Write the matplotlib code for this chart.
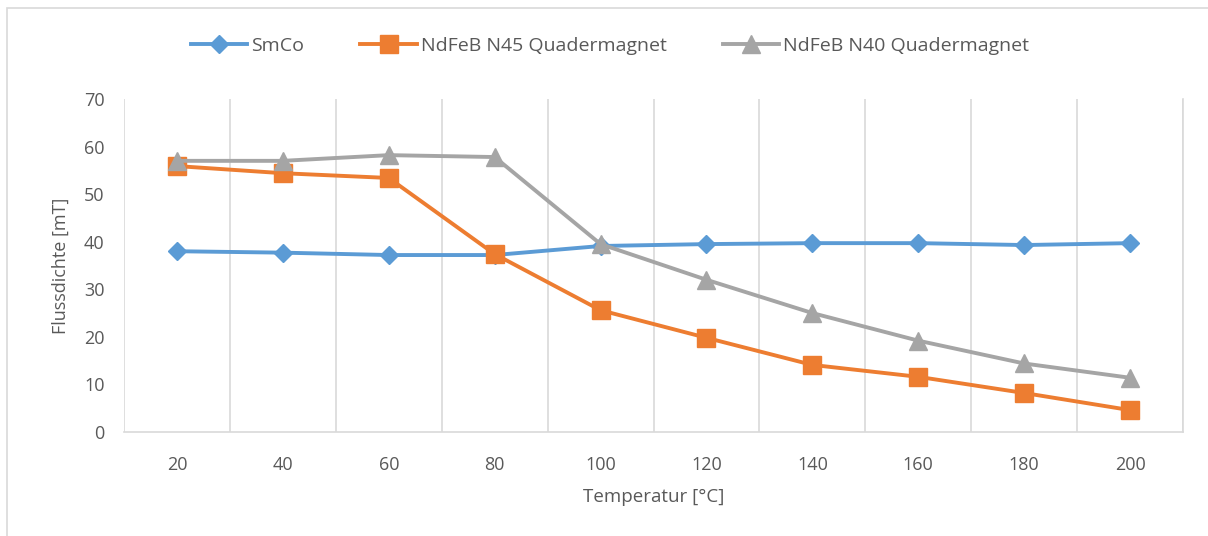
import matplotlib.pyplot as plt
from matplotlib.patches import Rectangle

plt.rcParams['font.family'] = ['Open Sans', 'DejaVu Sans']

temps = [20, 40, 60, 80, 100, 120, 140, 160, 180, 200]
smco = [38.0, 37.7, 37.2, 37.2, 39.1, 39.5, 39.7, 39.7, 39.3, 39.7]
n45 = [55.9, 54.4, 53.4, 37.4, 25.6, 19.8, 14.1, 11.6, 8.2, 4.6]
n40 = [57.0, 57.0, 58.2, 57.8, 39.5, 32.0, 25.0, 19.2, 14.4, 11.4]

blue = '#5b9bd5'
orange = '#ed7d31'
gray = '#a5a5a5'
text_col = '#595959'
grid_col = '#d9d9d9'

fig = plt.figure(figsize=(12.08, 5.36), dpi=100)
fig.patches.append(Rectangle((7 / 1208, -0.1), 1.2, 1.1 - 8 / 536,
                             transform=fig.transFigure, fill=False,
                             edgecolor=grid_col, linewidth=1.2))

ax = fig.add_axes([124 / 1208, 1 - 432 / 536, (1183 - 124) / 1208, (432 - 99) / 536])

x = list(range(len(temps)))
ax.plot(x, smco, color=blue, lw=2.8, marker='D', ms=9.5, label='SmCo')
ax.plot(x, n45, color=orange, lw=2.8, marker='s', ms=12.5, label='NdFeB N45 Quadermagnet')
ax.plot(x, n40, color=gray, lw=2.8, marker='^', ms=13, label='NdFeB N40 Quadermagnet')

ax.set_xlim(-0.5, len(temps) - 0.5)
ax.set_ylim(0, 70)
ax.set_yticks(range(0, 71, 10))
ax.set_xticks(x)
ax.set_xticklabels([str(t) for t in temps])
# vertical gridlines sit between the categories
for b in range(len(temps) + 1):
    ax.axvline(b - 0.5, color=grid_col, lw=1.2, zorder=0)

for side in ['top', 'left']:
    ax.spines[side].set_visible(False)
for side in ['bottom', 'right']:
    ax.spines[side].set_color(grid_col)
    ax.spines[side].set_linewidth(1.2)

ax.tick_params(axis='both', length=0, colors=text_col, labelsize=13)
ax.tick_params(axis='x', pad=17)
ax.tick_params(axis='y', pad=14)
ax.set_xlabel('Temperatur [°C]', color=text_col, fontsize=13.5, labelpad=10)
ax.set_ylabel('Flussdichte [mT]', color=text_col, fontsize=13, labelpad=10)

fig.legend(loc='center', bbox_to_anchor=(0.505, 1 - 46 / 536), ncol=3, frameon=False,
           fontsize=14, labelcolor=text_col, handlelength=2.9, handletextpad=0.2,
           columnspacing=2.9)

fig.savefig('out.png', dpi=100)
